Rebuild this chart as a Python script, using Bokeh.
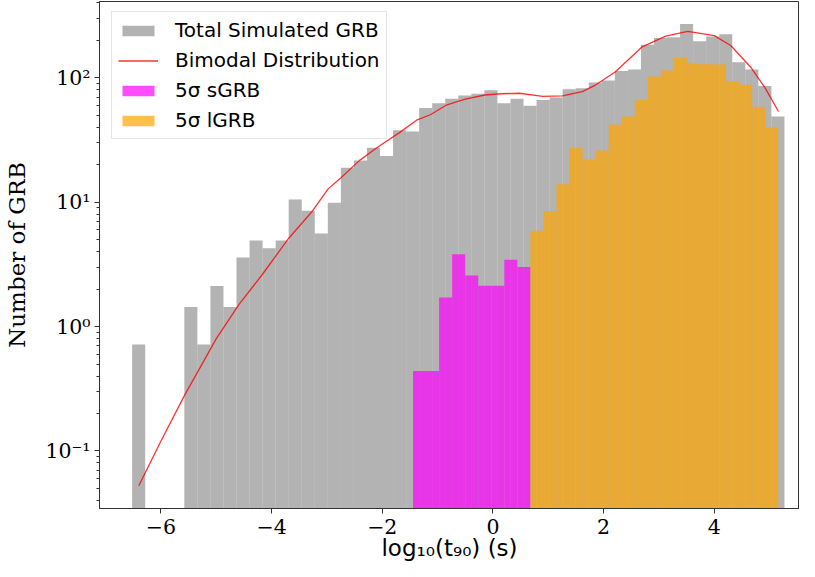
import numpy as np
from bokeh.plotting import figure
from bokeh.models import Range1d, FixedTicker, Legend, LegendItem, ColumnDataSource
from bokeh.embed import file_html
from bokeh.resources import INLINE

# ---------------- data ----------------
gray_range = (-6.521, 5.268)      # histogram range, log10(t90)
gray_nbins = 50
gray_counts = [0.716, 0, 0, 0, 1.437, 0.716, 2.12, 1.437, 3.59, 4.93, 4.26, 4.93,
               10.5, 8.54, 5.61, 9.89, 18.95, 21.6, 27.4, 23.5,
               37.9, 37.0, 57.1, 62.6, 67.9, 72.2, 74.5, 79.4,
               62.6, 67.9, 59.6, 66.5, 69.6, 80.9, 82.4, 91.9,
               95.0, 113.7, 116.6, 184.4, 209.6, 212.0, 271.0, 197.0,
               214.7, 223.9, 133.3, 116.6, 85.9, 49.0]

sgrb_range = (-1.445, 0.677)
sgrb_nbins = 9
sgrb_counts = [0.439, 0.439, 1.71, 3.82, 2.58, 2.13, 2.13, 3.44, 3.01]

lgrb_range = (0.677, 5.157)
lgrb_nbins = 19
lgrb_counts = [5.89, 8.50, 13.93, 27.4, 22.1, 26.1, 42.0, 49.0, 66.5, 102.6,
               114.5, 144.3, 130.9, 128.5, 127.8, 94.1, 88.0, 58.5, 39.8]

curve_x = [-6.401, -6.0, -5.572, -5.0, -4.589, -4.172, -3.694, -3.277, -2.979, -2.741,
           -2.411, -2.054, -1.696, -1.369, -1.131, -0.832, -0.5, -0.147, 0.15, 0.479,
           0.9, 1.256, 1.614, 1.852, 2.209, 2.687, 3.122, 3.521, 3.998, 4.297,
           4.655, 4.923, 5.161]
curve_y = [0.0525, 0.12, 0.281, 0.80, 1.507, 2.61, 5.11, 8.34, 12.8, 15.8,
           21.7, 28.3, 36.1, 46.0, 50.5, 60.7, 67.5, 72.8, 74.5, 75.2,
           71.0, 71.5, 77.4, 87.5, 111.6, 176.4, 216.6, 236.6, 218.6, 182.0,
           122.4, 82.4, 53.6]

x_ticks = [-6, -4, -2, 0, 2, 4]
x_tick_labels = ["\u22126", "\u22124", "\u22122", "0", "2", "4"]
y_ticks = [0.1, 1, 10, 100]
y_tick_labels = ["10\u207b\u00b9", "10\u2070", "10\u00b9", "10\u00b2"]

labels = ["Total Simulated GRB", "Bimodal Distribution", "5\u03c3 sGRB", "5\u03c3 lGRB"]


def hist_source(rng, nbins, counts):
    edges = np.linspace(rng[0], rng[1], nbins + 1)
    c = np.array(counts, dtype=float)
    m = c > 0
    return ColumnDataSource(dict(left=edges[:-1][m], right=edges[1:][m],
                                 top=c[m], bottom=np.full(m.sum(), 1e-4)))


p = figure(frame_width=700, frame_height=507,
           x_range=Range1d(-7.111, 5.54), y_range=Range1d(10 ** -1.463, 10 ** 2.614),
           y_axis_type="log", output_backend="svg", toolbar_location=None,
           min_border_left=99, min_border_right=0, min_border_top=1, min_border_bottom=53)
p.background_fill_color = "white"
p.border_fill_color = "white"
p.outline_line_color = "#333333"
p.outline_line_width = 1
p.xgrid.visible = False
p.ygrid.visible = False

r_gray = p.quad(left="left", right="right", top="top", bottom="bottom",
                source=hist_source(gray_range, gray_nbins, gray_counts),
                fill_color="#808080", fill_alpha=0.6, line_color=None)
r_s = p.quad(left="left", right="right", top="top", bottom="bottom",
             source=hist_source(sgrb_range, sgrb_nbins, sgrb_counts),
             fill_color="#ff00ff", fill_alpha=0.7, line_color=None)
r_l = p.quad(left="left", right="right", top="top", bottom="bottom",
             source=hist_source(lgrb_range, lgrb_nbins, lgrb_counts),
             fill_color="#ffa500", fill_alpha=0.7, line_color=None)
r_c = p.line(curve_x, curve_y, line_color="red", line_width=1.3, line_alpha=0.8)

# axes
xa = p.xaxis[0]
xa.ticker = FixedTicker(ticks=x_ticks)
xa.major_label_overrides = dict(zip(x_ticks, x_tick_labels))
xa.axis_label = "log\u2081\u2080(t\u2089\u2080) (s)"
ya = p.yaxis[0]
ya.major_label_overrides = dict(zip(y_ticks, y_tick_labels))
ya.axis_label = "Number of GRB"

for ax in (xa, ya):
    ax.axis_line_color = "#333333"
    ax.major_tick_line_color = "#333333"
    ax.minor_tick_line_color = "#333333"
    ax.major_tick_in = 0
    ax.major_tick_out = 5
    ax.minor_tick_in = 0
    ax.minor_tick_out = 3
    ax.major_label_text_font = "DejaVu Serif"
    ax.major_label_text_font_size = "20.5px"
    ax.major_label_text_color = "black"
    ax.axis_label_text_font_style = "normal"
    ax.axis_label_text_color = "black"
xa.minor_tick_line_color = None
xa.major_label_standoff = 5
xa.axis_label_text_font = "DejaVu Sans"
xa.axis_label_text_font_size = "23px"
xa.axis_label_standoff = -2
ya.major_label_standoff = 4
ya.axis_label_text_font = "DejaVu Serif"
ya.axis_label_text_font_size = "23px"
ya.axis_label_standoff = 12

legend = Legend(items=[LegendItem(label=labels[0], renderers=[r_gray]),
                       LegendItem(label=labels[1], renderers=[r_c]),
                       LegendItem(label=labels[2], renderers=[r_s]),
                       LegendItem(label=labels[3], renderers=[r_l])],
                location=(12, 369))
legend.margin = 0
legend.padding = 6
legend.spacing = 6
legend.label_height = 22
legend.glyph_height = 13
legend.glyph_width = 40
legend.label_standoff = 17
legend.label_text_font = "DejaVu Sans"
legend.label_text_font_size = "20px"
legend.label_text_color = "black"
legend.border_line_color = "#cccccc"
legend.border_line_width = 1
legend.background_fill_alpha = 0.8
p.add_layout(legend)

open("out.html", "w").write(file_html(p, INLINE))
